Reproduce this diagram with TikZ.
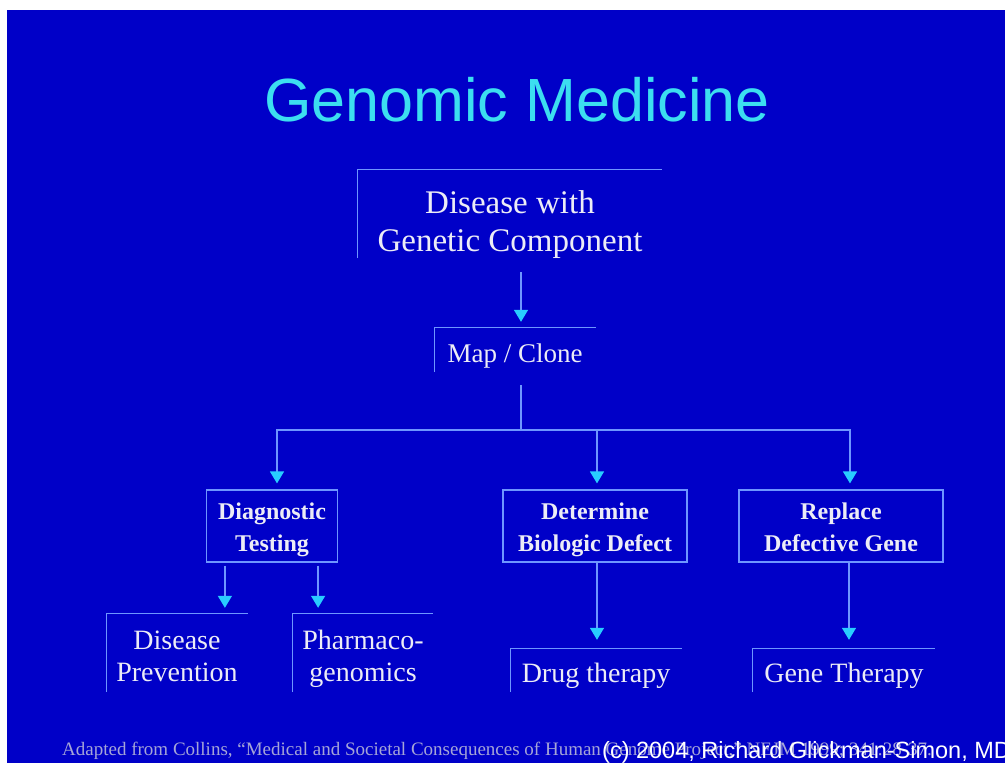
\documentclass[tikz,border=0pt]{standalone}
\usepackage{fontspec}
\setmainfont{Liberation Serif}
\setsansfont{Liberation Sans}
\usetikzlibrary{arrows.meta}

\definecolor{slideblue}{RGB}{0,0,200}
\definecolor{titlecyan}{RGB}{60,222,240}
\definecolor{linkblue}{RGB}{110,150,255}
\definecolor{tipcyan}{RGB}{40,205,255}
\definecolor{boxtext}{RGB}{236,236,246}
\definecolor{notegray}{RGB}{165,165,215}

\tikzset{
  openbox/.style={inner sep=0pt, text=boxtext, align=center, text depth=0pt},
  fullbox/.style={draw=linkblue, line width=1.2pt, inner sep=0pt, text=boxtext, align=center,
    font=\bfseries\fontsize{24}{32}\selectfont, minimum height=72pt, text height=50pt, text depth=0pt},
  link/.style={draw=linkblue, line width=1.4pt},
  arrowlink/.style={link, -{Triangle[width=14pt,length=12pt,color=tipcyan,fill=tipcyan]}, shorten >=6pt},
}

\begin{document}
\begin{tikzpicture}[x=1pt,y=1pt,yscale=-1,xscale=1]
\useasboundingbox (0,0) rectangle (1005,763);
\clip (0,0) rectangle (1005,763);

%Shape: Rectangle [slide background]
\fill[white] (0,0) rectangle (1005,763);
\fill[slideblue] (7,10) rectangle (1005,763);

% Text Node
\node[text=titlecyan, inner sep=0pt, font=\sffamily\fontsize{61}{61}\selectfont] (title) at (517,100) {Genomic Medicine};

% Text Node
\node[openbox, minimum width=304pt, minimum height=88pt, text height=74pt, font=\fontsize{33}{38}\selectfont] (disease) at (510,214) {Disease with\\Genetic Component};
% Text Node
\node[openbox, minimum width=161pt, minimum height=44pt, text height=24pt, font=\fontsize{27}{27}\selectfont] (map) at (515,350) {Map / Clone};

% Text Node
\node[fullbox, minimum width=131pt] (diag) at (272,526) {Diagnostic\\Testing};
% Text Node
\node[fullbox, minimum width=184pt] (det) at (595,526) {Determine\\Biologic Defect};
% Text Node
\node[fullbox, minimum width=204pt] (rep) at (841,526) {Replace\\Defective Gene};

% Text Node
\node[openbox, minimum width=141pt, minimum height=78pt, text height=56pt, font=\fontsize{28}{32}\selectfont] (prev) at (177,653) {Disease\\Prevention};
% Text Node
\node[openbox, minimum width=140pt, minimum height=78pt, text height=57pt, font=\fontsize{28}{32}\selectfont] (pharm) at (363,653) {Pharmaco-\\genomics};
% Text Node
\node[openbox, minimum width=171pt, minimum height=43pt, text height=24pt, font=\fontsize{28}{28}\selectfont] (drug) at (596,670.5) {Drug therapy};
% Text Node
\node[openbox, minimum width=182pt, minimum height=43pt, text height=24pt, font=\fontsize{28}{28}\selectfont] (gene) at (844,670.5) {Gene Therapy};

%Shape: open boxes (left and top edge only)
\foreach \n in {disease,map,prev,pharm,drug,gene}
  \draw[link, line width=1.2pt] (\n.south west) |- (\n.north east);

%Straight Lines
\draw[arrowlink, shorten <=14pt] ([xshift=11pt]disease.south) -- ([xshift=11pt]disease.south |- map.north);
\coordinate (split) at (521,430);
\draw[link, shorten <=13pt] ([xshift=6pt]map.south) -- (split);
\draw[arrowlink] (split) -| ([xshift=5pt]diag.north);
\draw[arrowlink] (split) -| ([xshift=2pt]det.north);
\draw[arrowlink] (split) -| ([xshift=9pt]rep.north);
%Straight Lines
\draw[arrowlink, shorten <=3pt] ([xshift=19pt]diag.south west) -- ([xshift=19pt]diag.south west |- prev.north);
\draw[arrowlink, shorten <=3pt] ([xshift=-20pt]diag.south east) -- ([xshift=-20pt]diag.south east |- pharm.north);
\draw[arrowlink, shorten >=9pt] ([xshift=2pt]det.south) -- ([xshift=2pt]det.south |- drug.north);
\draw[arrowlink, shorten >=9pt] ([xshift=8pt]rep.south) -- ([xshift=8pt]rep.south |- gene.north);

% Text Node
\node[anchor=base west, inner sep=0pt, text=notegray, font=\fontsize{19}{19}\selectfont] (source) at (62,755) {Adapted from Collins, “Medical and Societal Consequences of Human Genome Project,” NEJM 1999; 341:28-37.};
% Text Node
\node[anchor=base west, inner sep=0pt, text=white, font=\sffamily\fontsize{23.5}{23.5}\selectfont] (credit) at (602,758) {(c) 2004, Richard Glickman-Simon, MD};

\end{tikzpicture}
\end{document}
